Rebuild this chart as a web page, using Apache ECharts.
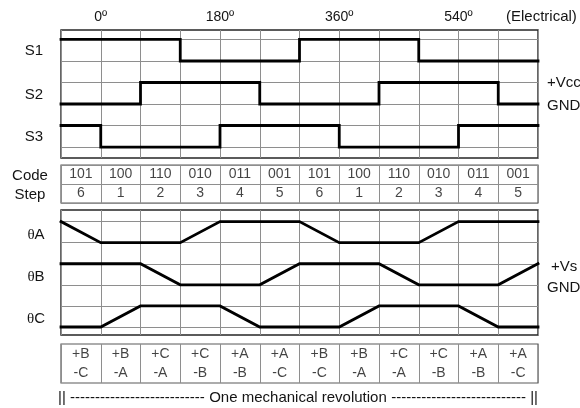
<!DOCTYPE html>
<html>
<head>
<meta charset="utf-8">
<script src="https://cdn.jsdelivr.net/npm/echarts@6/dist/echarts.min.js"></script>
<style>
html,body{margin:0;padding:0;background:#fff;}
#chart{width:580px;height:408px;}
</style>
</head>
<body>
<div id="chart"></div>
<script>
// ---- data ----
const angles = [-60, 0, 60, 120, 180, 240, 300, 360, 420, 480, 540, 600, 660]; // column boundaries (electrical degrees)
const degreeTicks = [0, 180, 360, 540];
const s1 = [1, 1, 1, 0, 0, 0, 1, 1, 1, 0, 0, 0];   // hall state per step column
const s2 = [0, 0, 1, 1, 1, 0, 0, 0, 1, 1, 1, 0];
const s3 = [1, 0, 0, 0, 1, 1, 1, 0, 0, 0, 1, 1];
const codes = ['101', '100', '110', '010', '011', '001', '101', '100', '110', '010', '011', '001'];
const steps = ['6', '1', '2', '3', '4', '5', '6', '1', '2', '3', '4', '5'];
const thetaA = [1, 0, 0, 0, 1, 1, 1, 0, 0, 0, 1, 1, 1]; // phase voltage at boundaries
const thetaB = [1, 1, 1, 0, 0, 0, 1, 1, 1, 0, 0, 0, 1];
const thetaC = [0, 0, 1, 1, 1, 0, 0, 0, 1, 1, 1, 0, 0];
const phasePos = ['+B', '+B', '+C', '+C', '+A', '+A', '+B', '+B', '+C', '+C', '+A', '+A'];
const phaseNeg = ['-C', '-A', '-A', '-B', '-B', '-C', '-C', '-A', '-A', '-B', '-B', '-C'];
const levels = [0, 1, 2, 3, 4, 5];

// ---- build ----
const FONT = 'Liberation Sans, Arial, sans-serif';
const TXT = '#141414';
const GRIDC = '#8e8e8e';
const mid = i => (angles[i] + angles[i + 1]) / 2;

function stepData(arr, off) {
  const d = arr.map((v, i) => [angles[i], off + v]);
  d.push([angles[angles.length - 1], off + arr[arr.length - 1]]);
  return d;
}
function rampData(arr, off) {
  return arr.map((v, i) => [angles[i], off + v]);
}
const sig = (data, xi, step) => ({
  type: 'line', xAxisIndex: xi, yAxisIndex: xi, data: data, step: step,
  showSymbol: false, symbol: 'none', z: 5,
  lineStyle: { color: '#000', width: 2.8, join: 'miter', cap: 'square' }
});
const gridLines = (xi) => ({
  type: 'line', xAxisIndex: xi, yAxisIndex: xi, data: [[-60, 0]], showSymbol: false, symbol: 'none',
  lineStyle: { width: 0 }, z: 1,
  markLine: {
    silent: true, symbol: ['none', 'none'], label: { show: false },
    lineStyle: { color: GRIDC, width: 1, type: 'solid' },
    emphasis: { disabled: true },
    data: levels.map(l => ({ yAxis: l }))
  }
});
const textCells = (xi, items, lh) => ({
  type: 'scatter', xAxisIndex: xi, yAxisIndex: xi, symbolSize: 1,
  itemStyle: { color: 'rgba(0,0,0,0)' }, z: 6,
  label: { show: true, position: 'inside', formatter: '{b}', fontFamily: FONT, fontSize: 14, color: TXT, lineHeight: lh || 16 },
  data: items
});

const xBase = () => ({
  type: 'value', min: -60, max: 660, interval: 60,
  axisLine: { show: false }, axisTick: { show: false },
  splitLine: { show: true, lineStyle: { color: GRIDC, width: 1 } },
  axisLabel: { show: false }
});

const x0 = xBase();
x0.gridIndex = 0;
x0.position = 'top';
x0.axisLabel = {
  show: true, margin: 6, fontFamily: FONT, fontSize: 14, color: TXT,
  showMinLabel: true, showMaxLabel: true,
  formatter: v => degreeTicks.indexOf(v) >= 0 ? v + 'º' : ''
};
const x1 = xBase(); x1.gridIndex = 1;
const x2 = xBase(); x2.gridIndex = 2;
const x3 = xBase(); x3.gridIndex = 3;

const yHidden = (gi, min, max, split) => ({
  type: 'value', gridIndex: gi, min: min, max: max, interval: split ? 1 : undefined,
  axisLine: { show: false }, axisTick: { show: false }, axisLabel: { show: false },
  splitLine: { show: !!split, lineStyle: { color: GRIDC, width: 1 } }
});

const codeItems = [];
codes.forEach((c, i) => codeItems.push({ name: c, value: [mid(i), 1.5] }));
steps.forEach((s, i) => codeItems.push({ name: s, value: [mid(i), 0.5] }));
const phaseItems = phasePos.map((p, i) => ({ name: p + '\n' + phaseNeg[i], value: [mid(i), 0.5] }));

const gtext = (text, x, y, align, size) => ({
  type: 'text', x: x, y: y,
  style: { text: text, fontFamily: FONT, fontSize: size || 15, fill: TXT, align: align || 'center', verticalAlign: 'middle' }
});
const theta = (letter, y) => ({
  type: 'text', x: 36, y: y,
  style: {
    text: '{t|θ}{a|' + letter + '}',
    rich: { t: { fontFamily: 'Liberation Serif, serif', fontSize: 15, fill: TXT }, a: { fontFamily: FONT, fontSize: 15, fill: TXT } },
    align: 'center', verticalAlign: 'middle'
  }
});

const option = {
  animation: false,
  backgroundColor: '#fff',
  grid: [
    { left: 61, right: 42, top: 30, height: 128, show: true, borderColor: '#262626', borderWidth: 1.4, backgroundColor: 'transparent' },
    { left: 61, right: 42, top: 165, height: 38, show: true, borderColor: '#5a5a5a', borderWidth: 1.2, backgroundColor: 'transparent' },
    { left: 61, right: 42, top: 210, height: 125, show: true, borderColor: '#262626', borderWidth: 1.4, backgroundColor: 'transparent' },
    { left: 61, right: 42, top: 344, height: 39, show: true, borderColor: '#5a5a5a', borderWidth: 1.2, backgroundColor: 'transparent' }
  ],
  xAxis: [x0, x1, x2, x3],
  yAxis: [
    yHidden(0, -0.51, 5.44, false),
    yHidden(1, 0, 2, true),
    yHidden(2, -0.38, 5.55, false),
    yHidden(3, 0, 1, false)
  ],
  series: [
    gridLines(0),
    gridLines(2),
    sig(stepData(s1, 4), 0, 'end'),
    sig(stepData(s2, 2), 0, 'end'),
    sig(stepData(s3, 0), 0, 'end'),
    sig(rampData(thetaA, 4), 2, false),
    sig(rampData(thetaB, 2), 2, false),
    sig(rampData(thetaC, 0), 2, false),
    textCells(1, codeItems),
    textCells(3, phaseItems, 19)
  ],
  graphic: [
    gtext('S1', 34, 51),
    gtext('S2', 34, 95),
    gtext('S3', 34, 137),
    gtext('Code', 30, 176),
    gtext('Step', 30, 195),
    theta('A', 235),
    theta('B', 277),
    theta('C', 319),
    gtext('+Vcc', 547, 83, 'left'),
    gtext('GND', 547, 106, 'left'),
    gtext('+Vs', 551, 267, 'left'),
    gtext('GND', 547, 288, 'left'),
    gtext('(Electrical)', 506, 17, 'left', 15),
    gtext('|| ' + '-'.repeat(27), 58, 398, 'left', 15),
    gtext('One mechanical revolution', 298, 398, 'center', 15),
    gtext('-'.repeat(27) + ' ||', 538, 398, 'right', 15)
  ]
};

const chart = echarts.init(document.getElementById('chart'), null, { renderer: 'canvas' });
chart.setOption(option);
</script>
</body>
</html>
